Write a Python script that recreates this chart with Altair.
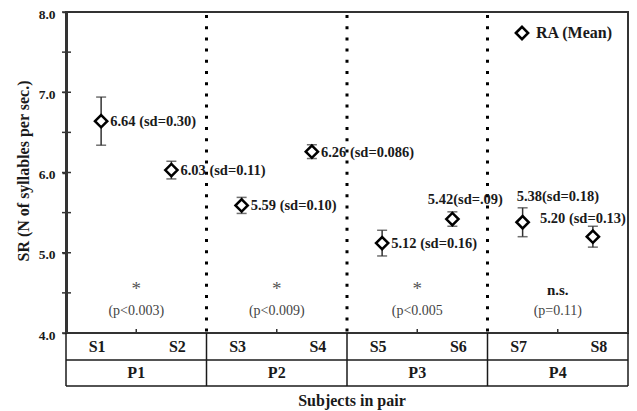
import altair as alt
import pandas as pd

# ---- data ----
subjects = ["S1", "S2", "S3", "S4", "S5", "S6", "S7", "S8"]
pairs = ["P1", "P2", "P3", "P4"]
means = [6.64, 6.03, 5.59, 6.26, 5.12, 5.42, 5.38, 5.20]
sds = [0.30, 0.11, 0.10, 0.086, 0.16, 0.09, 0.18, 0.13]
value_labels = ["6.64 (sd=0.30)", "6.03 (sd=0.11)", "5.59 (sd=0.10)", "6.26 (sd=0.086)",
                "5.12 (sd=0.16)", "5.42(sd=.09)", "5.38(sd=0.18)", "5.20 (sd=0.13)"]
sig_marks = ["*", "*", "*", "n.s."]
p_texts = ["(p<0.003)", "(p<0.009)", "(p<0.005", "(p=0.11)"]
y_ticks = [4.0, 5.0, 6.0, 7.0, 8.0]
minor_ticks = [4.0, 4.5, 5.0, 5.5, 6.0, 6.5, 7.0, 7.5, 8.0]
series_name = "RA (Mean)"
y_title = "SR (N of syllables per sec.)"
x_title = "Subjects in pair"

# ---- layout ----
W, H = 562, 321
FONT = "Liberation Serif"
INK = "#1a1a1a"
LINE = "#333333"

n = len(subjects)
df = pd.DataFrame({
    "subject": subjects,
    "pos": [i + 0.5 for i in range(n)],
    "side": ["first" if i % 2 == 0 else "second" for i in range(n)],
    "mean": means,
    "sd": sds,
    "lo": [m - s for m, s in zip(means, sds)],
    "hi": [m + s for m, s in zip(means, sds)],
    "label": value_labels,
})
pair_df = pd.DataFrame({
    "pair": pairs,
    "center": [2 * j + 1 for j in range(len(pairs))],
    "sig": sig_marks,
    "p": p_texts,
})
bound_df = pd.DataFrame({"b": [2 * j for j in range(len(pairs) + 1)]})
inner_df = bound_df[(bound_df["b"] > 0) & (bound_df["b"] < 2 * len(pairs))]
tick_df = pd.DataFrame({"v": minor_ticks})
one = pd.DataFrame({"k": [0]})

xscale = alt.Scale(domain=[0, 2 * len(pairs)], nice=False, zero=False)
yscale = alt.Scale(domain=[4, 8], nice=False, zero=False)

yaxis = alt.Axis(
    values=y_ticks, format=".1f", grid=False,
    title=y_title, titleFont=FONT, titleFontSize=16, titleFontWeight="bold",
    titleColor=INK, titleAngle=270, titleX=-43, titleY=H / 2 - 2,
    titleAlign="center", titleBaseline="middle",
    labelFont=FONT, labelFontSize=13.5, labelFontWeight="bold", labelColor=INK,
    labelPadding=7, labelOffset=2,
    tickSize=4, tickColor=LINE, tickWidth=1.5,
    domainColor=LINE, domainWidth=3,
)

def X(field):
    return alt.X(f"{field}:Q", scale=xscale, axis=None)

def Y(field):
    return alt.Y(f"{field}:Q", scale=yscale, axis=yaxis)

base = alt.Chart(df)

# y ticks crossing the axis (major + minor)
yticks = alt.Chart(tick_df).mark_rule(color=LINE, strokeWidth=1.5).encode(
    y=Y("v"), x=alt.value(-4), x2=alt.value(5)
)

# dotted separators between pairs
dotted = alt.Chart(inner_df).mark_rule(color="black", strokeWidth=3, strokeDash=[3, 8.2]).encode(
    x=X("b"), y=alt.value(3), y2=alt.value(H)
)

# small x ticks at pair centres
xticks = alt.Chart(pair_df).mark_rule(color=LINE, strokeWidth=1.5).encode(
    x=X("center"), y=alt.value(H - 4), y2=alt.value(H)
)

# error bars
bars = base.mark_rule(color=LINE, strokeWidth=1.5).encode(x=X("pos"), y=Y("lo"), y2="hi:Q")
cap_lo = base.mark_tick(orient="horizontal", size=10, thickness=1.5, color=LINE).encode(x=X("pos"), y=Y("lo"))
cap_hi = base.mark_tick(orient="horizontal", size=10, thickness=1.5, color=LINE).encode(x=X("pos"), y=Y("hi"))

# mean markers
pt_style = dict(shape="diamond", filled=True, fill="white", stroke="black",
                strokeWidth=2.5, size=150, opacity=1)
points = base.mark_point(**pt_style).encode(x=X("pos"), y=Y("mean"))

# legend (drawn in the top-right corner)
leg_sym = alt.Chart(one).mark_point(**pt_style).encode(x=alt.value(456), y=alt.value(21))
leg_txt = alt.Chart(one).mark_text(font=FONT, fontSize=16, fontWeight="bold", color=INK,
                                   align="left", baseline="middle").encode(
    x=alt.value(470), y=alt.value(21), text=alt.value(series_name))

txt = dict(font=FONT, fontSize=14.5, fontWeight="bold", color=INK, baseline="middle")
lbl_right = base.transform_filter(
    alt.FieldOneOfPredicate(field="subject", oneOf=subjects[:5])
).mark_text(align="left", dx=9, dy=1, **txt).encode(x=X("pos"), y=Y("mean"), text="label:N")
lbl_s6 = base.transform_filter(alt.datum.subject == subjects[5]).mark_text(
    align="center", dx=13, dy=-19, **txt).encode(x=X("pos"), y=Y("mean"), text="label:N")
lbl_s7 = base.transform_filter(alt.datum.subject == subjects[6]).mark_text(
    align="left", dx=-6, dy=-25, **txt).encode(x=X("pos"), y=Y("mean"), text="label:N")
lbl_s8 = base.transform_filter(alt.datum.subject == subjects[7]).mark_text(
    align="center", dx=-10, dy=-18, **txt).encode(x=X("pos"), y=Y("mean"), text="label:N")

# significance annotations
pb = alt.Chart(pair_df)
stars = pb.transform_filter(alt.datum.sig == "*").mark_text(
    font=FONT, fontSize=19, color="#555555", baseline="alphabetic", align="center"
).encode(x=X("center"), y=alt.value(H - 38), text="sig:N")
ns = pb.transform_filter(alt.datum.sig != "*").mark_text(
    font=FONT, fontSize=15, fontWeight="bold", color=INK, baseline="middle", align="center"
).encode(x=X("center"), y=alt.value(H - 43), text="sig:N")
ptxt = pb.mark_text(font=FONT, fontSize=14, color="#444444", baseline="middle", align="center").encode(
    x=X("center"), y=alt.value(H - 22), text="p:N")

# table below the plot
hline1 = alt.Chart(one).mark_rule(color=INK, strokeWidth=1.5).encode(
    x=alt.value(0), x2=alt.value(W), y=alt.value(H + 27))
hline2 = alt.Chart(one).mark_rule(color=INK, strokeWidth=1.5).encode(
    x=alt.value(0), x2=alt.value(W), y=alt.value(H + 53))
vlines = alt.Chart(bound_df).mark_rule(color=INK, strokeWidth=1.5).encode(
    x=X("b"), y=alt.value(H), y2=alt.value(H + 53))

stxt = dict(font=FONT, fontSize=16, fontWeight="bold", color=INK, baseline="middle", align="center")
s_first = base.transform_filter(alt.datum.side == "first").mark_text(dx=-4, **stxt).encode(
    x=X("pos"), y=alt.value(H + 14), text="subject:N")
s_second = base.transform_filter(alt.datum.side == "second").mark_text(dx=6, **stxt).encode(
    x=X("pos"), y=alt.value(H + 14), text="subject:N")
p_lbl = pb.mark_text(**stxt).encode(x=X("center"), y=alt.value(H + 40), text="pair:N")
xt = alt.Chart(one).mark_text(**stxt).encode(
    x=alt.value(W / 2 + 5), y=alt.value(H + 68), text=alt.value(x_title))

chart = alt.layer(
    yticks, dotted, xticks, bars, cap_lo, cap_hi, points, leg_sym, leg_txt,
    lbl_right, lbl_s6, lbl_s7, lbl_s8, stars, ns, ptxt,
    hline1, hline2, vlines, s_first, s_second, p_lbl, xt,
).properties(
    width=W, height=H,
    padding={"left": 58, "top": 4, "right": 1, "bottom": 78},
    autosize=alt.AutoSizeParams(type="none"),
    background="white",
).configure_view(stroke=LINE, strokeWidth=2)

chart.save("out.html", embed_options={"renderer": "svg", "actions": False})
